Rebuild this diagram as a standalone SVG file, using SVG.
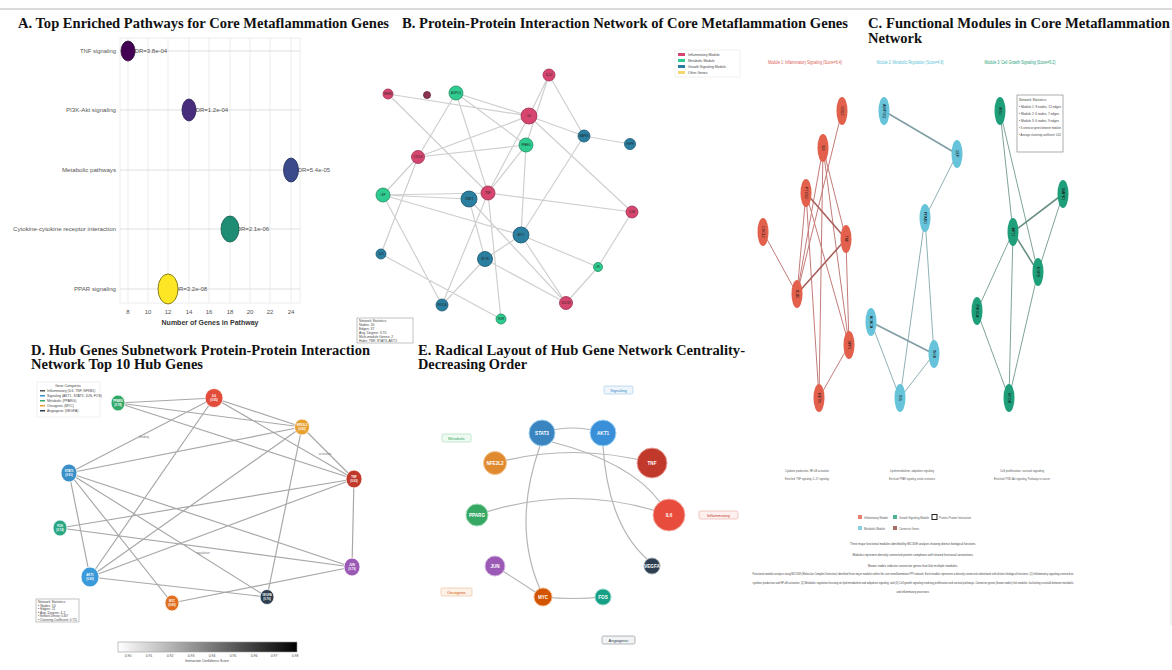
<svg xmlns="http://www.w3.org/2000/svg" width="1172" height="670" viewBox="0 0 1172 670">
<defs>
<style>
.ttl{font-family:"Liberation Serif","Times New Roman",serif;font-weight:bold;font-size:14.5px;fill:#111}
.ax{font-family:"Liberation Sans",Arial,sans-serif;font-size:6px;fill:#555}
.fdr{font-family:"Liberation Sans",Arial,sans-serif;font-size:6px;fill:#555}
.grid{stroke:#ebebeb;stroke-width:1}
.be{stroke:#cfcfcf;stroke-width:1.2;fill:none}
.bl{font-family:"Liberation Sans",Arial,sans-serif;font-size:2.6px;fill:#222;text-anchor:middle}
.cl{font-family:"Liberation Sans",Arial,sans-serif;font-size:3.6px;fill:#111;text-anchor:middle}
.re{stroke:#c27b78;stroke-width:1;fill:none}
.reT{stroke:#a8605c;stroke-width:1.6;fill:none}
.ue{stroke:#8fb0b6;stroke-width:1;fill:none}
.ueT{stroke:#7f9ea4;stroke-width:1.6;fill:none}
.ge{stroke:#7fa397;stroke-width:1;fill:none}
.geT{stroke:#6a8f83;stroke-width:1.6;fill:none}
.tiny{font-family:"Liberation Sans",Arial,sans-serif;font-size:3.4px;fill:#444}
.de{stroke:#a8a8a8;stroke-width:1.2;fill:none}
.dl{font-family:"Liberation Sans",Arial,sans-serif;font-size:2.8px;fill:#fff;text-anchor:middle;font-weight:bold}
.ee{stroke:#b5b5b5;stroke-width:1.2;fill:none}
.el{font-family:"Liberation Sans",Arial,sans-serif;font-size:4.6px;fill:#fff;text-anchor:middle;font-weight:bold}
.cat{font-family:"Liberation Sans",Arial,sans-serif;font-size:4px;text-anchor:middle}
</style>
<linearGradient id="cbar" x1="0" y1="0" x2="1" y2="0">
<stop offset="0" stop-color="#ffffff"/>
<stop offset="1" stop-color="#000000"/>
</linearGradient>
</defs>
<rect width="1172" height="670" fill="#ffffff"/>
<line x1="0" y1="9" x2="1172" y2="9" stroke="#cfcfcf" stroke-width="1.5"/>
<line x1="1171" y1="30" x2="1171" y2="625" stroke="#e2e2e2" stroke-width="1"/>

<!-- Titles -->
<text class="ttl" x="18" y="28" textLength="371" lengthAdjust="spacingAndGlyphs">A. Top Enriched Pathways for Core Metaflammation Genes</text>
<text class="ttl" x="402" y="28" textLength="446" lengthAdjust="spacingAndGlyphs">B. Protein-Protein Interaction Network of Core Metaflammation Genes</text>
<text class="ttl" x="868" y="28" textLength="302" lengthAdjust="spacingAndGlyphs">C. Functional Modules in Core Metaflammation</text>
<text class="ttl" x="868" y="43">Network</text>
<text class="ttl" x="31" y="355" textLength="339" lengthAdjust="spacingAndGlyphs">D. Hub Genes Subnetwork Protein-Protein Interaction</text>
<text class="ttl" x="31" y="369" textLength="172" lengthAdjust="spacingAndGlyphs">Network Top 10 Hub Genes</text>
<text class="ttl" x="418" y="355" textLength="327" lengthAdjust="spacingAndGlyphs">E. Radical Layout of Hub Gene Network Centrality-</text>
<text class="ttl" x="418" y="369" textLength="109" lengthAdjust="spacingAndGlyphs">Decreasing Order</text>

<!-- Panel A -->
<g id="panelA">
<rect x="120" y="38" width="180" height="265" fill="#ffffff" stroke="#ececec"/>
<g class="grid">
<line x1="128" y1="38" x2="128" y2="303"/><line x1="148" y1="38" x2="148" y2="303"/><line x1="168" y1="38" x2="168" y2="303"/><line x1="189" y1="38" x2="189" y2="303"/><line x1="209" y1="38" x2="209" y2="303"/><line x1="230" y1="38" x2="230" y2="303"/><line x1="250" y1="38" x2="250" y2="303"/><line x1="270" y1="38" x2="270" y2="303"/><line x1="291" y1="38" x2="291" y2="303"/>
</g>
<g stroke="#e0e0e0" stroke-width="1.2">
<line x1="120" y1="51" x2="300" y2="51"/><line x1="120" y1="110" x2="300" y2="110"/><line x1="120" y1="170" x2="300" y2="170"/><line x1="120" y1="229" x2="300" y2="229"/><line x1="120" y1="289" x2="300" y2="289"/>
</g>
<g class="ax" text-anchor="end">
<text x="116" y="53" textLength="36" lengthAdjust="spacingAndGlyphs">TNF signaling</text>
<text x="116" y="112" textLength="50" lengthAdjust="spacingAndGlyphs">PI3K-Akt signaling</text>
<text x="116" y="172" textLength="54" lengthAdjust="spacingAndGlyphs">Metabolic pathways</text>
<text x="116" y="231" textLength="103" lengthAdjust="spacingAndGlyphs">Cytokine-cytokine receptor interaction</text>
<text x="116" y="291" textLength="42" lengthAdjust="spacingAndGlyphs">PPAR signaling</text>
</g>
<g class="fdr">
<text x="131" y="53">FDR=3.8e-04</text>
<text x="192" y="112">FDR=1.2e-04</text>
<text x="294" y="172">FDR=5.4e-05</text>
<text x="233" y="231">FDR=2.1e-06</text>
<text x="171" y="291">FDR=3.2e-08</text>
</g>
<ellipse cx="128" cy="51" rx="7" ry="10" fill="#440154" stroke="#2a0a33" stroke-width="0.8"/>
<ellipse cx="189" cy="110" rx="7" ry="11" fill="#472d7b" stroke="#2d1f55" stroke-width="0.8"/>
<ellipse cx="291" cy="170" rx="7.5" ry="12" fill="#3b4a8a" stroke="#25305c" stroke-width="0.8"/>
<ellipse cx="230" cy="229" rx="9" ry="13" fill="#1f8c74" stroke="#145c4c" stroke-width="0.8"/>
<ellipse cx="168" cy="289" rx="10" ry="15" fill="#fde725" stroke="#8a7e1a" stroke-width="1"/>
<g class="ax" text-anchor="middle">
<text x="128" y="314">8</text><text x="148" y="314">10</text><text x="168" y="314">12</text><text x="189" y="314">14</text><text x="209" y="314">16</text><text x="230" y="314">18</text><text x="250" y="314">20</text><text x="270" y="314">22</text><text x="291" y="314">24</text>
</g>
<text x="210" y="325" text-anchor="middle" font-family="Liberation Sans, Arial, sans-serif" font-size="7" font-weight="bold" fill="#333">Number of Genes in Pathway</text>
</g>

<!-- Panel B -->
<g id="panelB-edges">
<path class="be" d="M388,94L529,116M388,94L488,193M456,93L529,116M456,93L418,157M456,93L526,145M456,93L488,193M549,75L529,116M549,75L584,136M549,75L526,145M529,116L584,136M584,136L630,144M529,116L418,157M529,116L632,212M418,157L526,145M418,157L383,195M418,157L381,254M584,136L521,235M383,195L488,193M383,195L469,199M383,195L521,235M383,195L442,305M488,193L632,212M488,193L501,319M488,193L442,305M469,199L485,259M469,199L566,303M521,235L566,303M521,235L598,267M521,235L485,259M485,259L566,303M485,259L442,305M632,212L598,267M598,267L566,303M381,254L501,319M526,145L521,235M526,145L488,193M529,116L488,193"/>
</g>
<g id="panelB-nodes" stroke-width="0.8">
<g id="b-NFKB1"><circle cx="388" cy="94" r="5" fill="#d6456e" stroke="#9a2f4f"/><text class="bl" x="388" y="95">NFKB1</text></g>
<g id="b-TLR4"><circle cx="427" cy="95" r="3.5" fill="#8e3452" stroke="#5c2035"/></g>
<g id="b-ADIPOQ"><circle cx="456" cy="93" r="7" fill="#2ecc8f" stroke="#1e8a60"/><text class="bl" x="456" y="94">ADIPOQ</text></g>
<g id="b-CCL2"><circle cx="549" cy="75" r="6" fill="#d6456e" stroke="#9a2f4f"/><text class="bl" x="549" y="76">CCL2</text></g>
<g id="b-IL6"><circle cx="529" cy="116" r="8" fill="#d6456e" stroke="#9a2f4f"/><text class="bl" x="529" y="117">IL6</text></g>
<g id="b-MAPK8"><circle cx="584" cy="136" r="6" fill="#2a7fa0" stroke="#1b5670"/><text class="bl" x="584" y="137">MAPK8</text></g>
<g id="b-PPARG"><circle cx="526" cy="145" r="7" fill="#2ecc8f" stroke="#1e8a60"/><text class="bl" x="526" y="146">PPARG</text></g>
<g id="b-EGFR"><circle cx="630" cy="144" r="5.5" fill="#2a7fa0" stroke="#1b5670"/><text class="bl" x="630" y="145">EGFR</text></g>
<g id="b-CXCL8"><circle cx="418" cy="157" r="6.5" fill="#d6456e" stroke="#9a2f4f"/><text class="bl" x="418" y="158">CXCL8</text></g>
<g id="b-LEP"><circle cx="383" cy="195" r="7" fill="#2ecc8f" stroke="#1e8a60"/><text class="bl" x="383" y="196">LEP</text></g>
<g id="b-STAT3"><circle cx="469" cy="199" r="8" fill="#2a7fa0" stroke="#1b5670"/><text class="bl" x="469" y="200">STAT3</text></g>
<g id="b-TNF"><circle cx="488" cy="193" r="7" fill="#d6456e" stroke="#9a2f4f"/><text class="bl" x="488" y="194">TNF</text></g>
<g id="b-IL1B"><circle cx="632" cy="212" r="6" fill="#d6456e" stroke="#9a2f4f"/><text class="bl" x="632" y="213">IL1B</text></g>
<g id="b-AKT1"><circle cx="521" cy="235" r="8" fill="#2a7fa0" stroke="#1b5670"/><text class="bl" x="521" y="236">AKT1</text></g>
<g id="b-JUN"><circle cx="381" cy="254" r="5" fill="#2a7fa0" stroke="#1b5670"/><text class="bl" x="381" y="255">JUN</text></g>
<g id="b-MTOR"><circle cx="485" cy="259" r="7.5" fill="#2a7fa0" stroke="#1b5670"/><text class="bl" x="485" y="260">MTOR</text></g>
<g id="b-LPL"><circle cx="598" cy="267" r="4.5" fill="#2ecc8f" stroke="#1e8a60"/><text class="bl" x="598" y="268">LPL</text></g>
<g id="b-PIK3CA"><circle cx="442" cy="305" r="6" fill="#2a7fa0" stroke="#1b5670"/><text class="bl" x="442" y="306">PIK3CA</text></g>
<g id="b-SOCS3"><circle cx="566" cy="303" r="6.5" fill="#d6456e" stroke="#9a2f4f"/><text class="bl" x="566" y="304">SOCS3</text></g>
<g id="b-INSR"><circle cx="501" cy="319" r="5" fill="#2ecc8f" stroke="#1e8a60"/><text class="bl" x="501" y="320">INSR</text></g>
</g>
<g id="panelB-legend">
<rect x="675" y="50" width="65" height="27" fill="#ffffff" stroke="#e6e6e6" stroke-width="0.6"/>
<rect x="678" y="53" width="7" height="3" fill="#d6456e"/><text class="tiny" x="688" y="56">Inflammatory Module</text>
<rect x="678" y="59" width="7" height="3" fill="#2ecc8f"/><text class="tiny" x="688" y="62">Metabolic Module</text>
<rect x="678" y="65" width="7" height="3" fill="#2a7fa0"/><text class="tiny" x="688" y="68">Growth Signaling Module</text>
<rect x="678" y="71" width="7" height="3" fill="#f5d76e"/><text class="tiny" x="688" y="74">Other Genes</text>
</g>
<g id="panelB-stats">
<rect x="357" y="318" width="56" height="25" fill="#ffffff" stroke="#9a9a9a" stroke-width="0.6"/>
<g class="tiny" font-size="2.8px">
<text x="359" y="322">Network Statistics:</text>
<text x="359" y="326">Nodes: 20</text>
<text x="359" y="330">Edges: 37</text>
<text x="359" y="334">Avg. Degree: 3.70</text>
<text x="359" y="338">Multi-module Genes: 2</text>
<text x="359" y="342">Hubs: TNF, STAT3, AKT1</text>
</g>
</g>

<!-- Panel C -->
<g id="panelC-titles" font-family="Liberation Sans, Arial, sans-serif" font-size="5px" text-anchor="middle">
<text x="805" y="64" fill="#d9604f" textLength="74" lengthAdjust="spacingAndGlyphs">Module 1: Inflammatory Signaling (Score=6.4)</text>
<text x="910" y="64" fill="#5bbfd6" textLength="67" lengthAdjust="spacingAndGlyphs">Module 2: Metabolic Regulation (Score=4.8)</text>
<text x="1020" y="64" fill="#1f9e7a" textLength="71" lengthAdjust="spacingAndGlyphs">Module 3: Cell Growth Signaling (Score=5.2)</text>
</g>
<g id="panelC-edges">
<path class="re" d="M842,111L797,294M823,148L797,294M823,148L846,239M823,148L849,345M823,148L819,398M806,193L819,398M806,193L849,345M763,232L797,294M846,239L849,345M849,345L819,398M806,193L797,294"/>
<path class="reT" d="M806,193L846,239M846,239L797,294"/>
<path class="ue" d="M957,154L925,218M925,218L900,398M925,218L934,354M871,322L900,398M934,354L900,398"/>
<path class="ueT" d="M884,111L957,154M871,322L934,354"/>
<path class="ge" d="M1000,111L1013,232M1000,111L1038,272M1063,194L1038,272M1013,232L977,311M1013,232L1009,398M1038,272L1009,398M977,311L1009,398"/>
<path class="geT" d="M1063,194L1013,232M1013,232L1038,272"/>
</g>
<g id="panelC-nodes">
<g fill="#e2604c">
<g id="c-CCL2"><ellipse cx="842" cy="111" rx="5.5" ry="14"/><text class="cl" transform="translate(842,111) rotate(90)" y="1.2">CCL2</text></g>
<g id="c-IL6"><ellipse cx="823" cy="148" rx="5.5" ry="14"/><text class="cl" transform="translate(823,148) rotate(90)" y="1.2">IL6</text></g>
<g id="c-PTGS2"><ellipse cx="806" cy="193" rx="5.5" ry="14"/><text class="cl" transform="translate(806,193) rotate(90)" y="1.2">PTGS2</text></g>
<g id="c-CXCL2"><ellipse cx="763" cy="232" rx="5.5" ry="14"/><text class="cl" transform="translate(763,232) rotate(90)" y="1.2">CXCL2</text></g>
<g id="c-TNF"><ellipse cx="846" cy="239" rx="5.5" ry="14"/><text class="cl" transform="translate(846,239) rotate(90)" y="1.2">TNF</text></g>
<g id="c-IL1B"><ellipse cx="797" cy="294" rx="5.5" ry="14"/><text class="cl" transform="translate(797,294) rotate(90)" y="1.2">IL1B</text></g>
<g id="c-SPP1"><ellipse cx="849" cy="345" rx="5.5" ry="14"/><text class="cl" transform="translate(849,345) rotate(90)" y="1.2">SPP1</text></g>
<g id="c-RETN"><ellipse cx="819" cy="398" rx="5.5" ry="14"/><text class="cl" transform="translate(819,398) rotate(90)" y="1.2">RETN</text></g>
</g>
<g fill="#66c3da">
<g id="c-ADIPOQ"><ellipse cx="884" cy="111" rx="5.5" ry="14"/><text class="cl" transform="translate(884,111) rotate(90)" y="1.2">ADIPOQ</text></g>
<g id="c-LEP"><ellipse cx="957" cy="154" rx="5.5" ry="14"/><text class="cl" transform="translate(957,154) rotate(90)" y="1.2">LEP</text></g>
<g id="c-PPARG"><ellipse cx="925" cy="218" rx="5.5" ry="14"/><text class="cl" transform="translate(925,218) rotate(90)" y="1.2">PPARG</text></g>
<g id="c-ACACA"><ellipse cx="871" cy="322" rx="5.5" ry="14"/><text class="cl" transform="translate(871,322) rotate(90)" y="1.2">ACACA</text></g>
<g id="c-INSR"><ellipse cx="934" cy="354" rx="5.5" ry="14"/><text class="cl" transform="translate(934,354) rotate(90)" y="1.2">INSR</text></g>
<g id="c-INS"><ellipse cx="900" cy="398" rx="5.5" ry="14"/><text class="cl" transform="translate(900,398) rotate(90)" y="1.2">INS</text></g>
</g>
<g fill="#1f9e7a">
<g id="c-IRS1"><ellipse cx="1000" cy="111" rx="5.5" ry="14"/><text class="cl" transform="translate(1000,111) rotate(90)" y="1.2">IRS1</text></g>
<g id="c-MAPK1"><ellipse cx="1063" cy="194" rx="5.5" ry="14"/><text class="cl" transform="translate(1063,194) rotate(90)" y="1.2">MAPK1</text></g>
<g id="c-AKT1"><ellipse cx="1013" cy="232" rx="5.5" ry="14"/><text class="cl" transform="translate(1013,232) rotate(90)" y="1.2">AKT1</text></g>
<g id="c-EGFR"><ellipse cx="1038" cy="272" rx="5.5" ry="14"/><text class="cl" transform="translate(1038,272) rotate(90)" y="1.2">EGFR</text></g>
<g id="c-PIK3CA"><ellipse cx="977" cy="311" rx="5.5" ry="14"/><text class="cl" transform="translate(977,311) rotate(90)" y="1.2">PIK3CA</text></g>
<g id="c-MTOR"><ellipse cx="1009" cy="398" rx="5.5" ry="14"/><text class="cl" transform="translate(1009,398) rotate(90)" y="1.2">MTOR</text></g>
</g>
</g>
<g id="panelC-stats">
<rect x="1017" y="95" width="46" height="57" fill="#ffffff" stroke="#8a8a8a" stroke-width="0.7"/>
<g class="tiny" font-size="3.2px" fill="#333">
<text x="1019" y="101">Network Statistics:</text>
<text x="1019" y="108" textLength="42" lengthAdjust="spacingAndGlyphs">• Module 1: 8 nodes, 12 edges</text>
<text x="1019" y="115" textLength="40" lengthAdjust="spacingAndGlyphs">• Module 2: 6 nodes, 7 edges</text>
<text x="1019" y="122" textLength="40" lengthAdjust="spacingAndGlyphs">• Module 3: 6 nodes, 9 edges</text>
<text x="1019" y="129" textLength="42" lengthAdjust="spacingAndGlyphs">• 3 connector genes between modules</text>
<text x="1019" y="136" textLength="42" lengthAdjust="spacingAndGlyphs">• Average clustering coefficient: 0.62</text>
</g>
</g>
<g id="panelC-text" font-family="Liberation Sans, Arial, sans-serif" fill="#555" text-anchor="middle">
<text x="807" y="472" font-size="3.8px" textLength="44" lengthAdjust="spacingAndGlyphs">Cytokine production, NF-κB activation</text>
<text x="807" y="480" font-size="3.8px" textLength="44" lengthAdjust="spacingAndGlyphs">Enriched: TNF signaling, IL-17 signaling</text>
<text x="912" y="472" font-size="3.8px" textLength="44" lengthAdjust="spacingAndGlyphs">Lipid metabolism, adipokine signaling</text>
<text x="912" y="480" font-size="3.8px" textLength="46" lengthAdjust="spacingAndGlyphs">Enriched: PPAR signaling, insulin resistance</text>
<text x="1022" y="472" font-size="3.8px" textLength="44" lengthAdjust="spacingAndGlyphs">Cell proliferation, survival signaling</text>
<text x="1022" y="480" font-size="3.8px" textLength="56" lengthAdjust="spacingAndGlyphs">Enriched: PI3K-Akt signaling, Pathways in cancer</text>
</g>
<g id="panelC-legend" font-family="Liberation Sans, Arial, sans-serif" font-size="3.6px" fill="#555">
<rect x="858" y="515" width="4" height="4" fill="#e2604c" opacity="0.8"/><text x="864" y="519" textLength="24" lengthAdjust="spacingAndGlyphs">Inflammatory Module</text>
<rect x="893" y="515" width="4" height="4" fill="#1f9e7a" opacity="0.8"/><text x="899" y="519" textLength="30" lengthAdjust="spacingAndGlyphs">Growth Signaling Module</text>
<rect x="932" y="514.5" width="5" height="5" fill="#ffffff" stroke="#222" stroke-width="1"/><text x="939" y="519" textLength="32" lengthAdjust="spacingAndGlyphs">Protein-Protein Interaction</text>
<rect x="858" y="526" width="4" height="4" fill="#66c3da" opacity="0.8"/><text x="864" y="530" textLength="21" lengthAdjust="spacingAndGlyphs">Metabolic Module</text>
<rect x="893" y="526" width="4" height="4" fill="#8b4a3c" opacity="0.8"/><text x="899" y="530" textLength="20" lengthAdjust="spacingAndGlyphs">Connector Genes</text>
</g>
<g id="panelC-caption" font-family="Liberation Sans, Arial, sans-serif" fill="#444" text-anchor="middle">
<text x="913" y="545" font-size="3.8px" textLength="126" lengthAdjust="spacingAndGlyphs">Three major functional modules identified by MCODE analysis showing distinct biological functions.</text>
<text x="913" y="556" font-size="3.8px" textLength="121" lengthAdjust="spacingAndGlyphs">Modules represent densely connected protein complexes with shared functional annotations.</text>
<text x="913" y="567" font-size="3.8px" textLength="90" lengthAdjust="spacingAndGlyphs">Brown nodes indicate connector genes that link multiple modules.</text>
<text x="913" y="575" font-size="3.4px" textLength="321" lengthAdjust="spacingAndGlyphs">Functional module analysis using MCODE (Molecular Complex Detection) identified three major modules within the core metaflammation PPI network. Each module represents a densely connected subnetwork with distinct biological functions: (1) Inflammatory signaling centered on</text>
<text x="913" y="584" font-size="3.4px" textLength="321" lengthAdjust="spacingAndGlyphs">cytokine production and NF-κB activation; (2) Metabolic regulation focusing on lipid metabolism and adipokine signaling; and (3) Cell growth signaling involving proliferation and survival pathways. Connector genes (brown nodes) link modules, facilitating crosstalk between metabolic</text>
<text x="913" y="593" font-size="3.4px" textLength="33" lengthAdjust="spacingAndGlyphs">and inflammatory processes.</text>
</g>

<!-- Panel D -->
<g id="panelD-edges">
<path class="de" d="M118,403L214,398M118,403L302,427M118,403L354,479M214,398L302,427M214,398L354,479M214,398L90,577M69,473L214,398M69,473L302,427M302,427L354,479M302,427L90,577M302,427L267,597M354,479L90,577M354,479L352,567M60,528L354,479M60,528L352,567M69,473L90,577M69,473L172,603M69,473L267,597M69,473L352,567M90,577L267,597M172,603L352,567"/>
<g font-family="Liberation Sans, Arial, sans-serif" font-size="3px" fill="#777" text-anchor="middle">
<text x="144" y="438">binding</text>
<text x="325" y="455">activation</text>
<text x="203" y="554">regulation</text>
</g>
</g>
<g id="panelD-nodes" stroke="#ffffff" stroke-width="0.8">
<g id="d-PPARG"><ellipse cx="118" cy="403" rx="7" ry="8" fill="#32a96a"/><text class="dl" x="118" y="402" stroke="none">PPARG</text><text class="dl" x="118" y="406" stroke="none">(0.78)</text></g>
<g id="d-IL6"><ellipse cx="214" cy="398" rx="9" ry="9.5" fill="#e24c3b"/><text class="dl" x="214" y="397" stroke="none">IL6</text><text class="dl" x="214" y="401" stroke="none">(0.95)</text></g>
<g id="d-NFE2L2"><ellipse cx="302" cy="427" rx="7.5" ry="8" fill="#e8a030"/><text class="dl" x="302" y="426" stroke="none">NFE2L2</text><text class="dl" x="302" y="430" stroke="none">(0.82)</text></g>
<g id="d-TNF"><ellipse cx="354" cy="479" rx="8" ry="9" fill="#c0392b"/><text class="dl" x="354" y="478" stroke="none">TNF</text><text class="dl" x="354" y="482" stroke="none">(0.93)</text></g>
<g id="d-STAT3"><ellipse cx="69" cy="473" rx="8" ry="9" fill="#3a8fc8"/><text class="dl" x="69" y="472" stroke="none">STAT3</text><text class="dl" x="69" y="476" stroke="none">(0.91)</text></g>
<g id="d-FOS"><ellipse cx="60" cy="528" rx="7" ry="8" fill="#2aa886"/><text class="dl" x="60" y="527" stroke="none">FOS</text><text class="dl" x="60" y="531" stroke="none">(0.74)</text></g>
<g id="d-AKT1"><ellipse cx="90" cy="577" rx="9" ry="10" fill="#3b9ad9"/><text class="dl" x="90" y="576" stroke="none">AKT1</text><text class="dl" x="90" y="580" stroke="none">(0.90)</text></g>
<g id="d-MYC"><ellipse cx="172" cy="603" rx="7" ry="8" fill="#e07020"/><text class="dl" x="172" y="602" stroke="none">MYC</text><text class="dl" x="172" y="606" stroke="none">(0.80)</text></g>
<g id="d-VEGFA"><ellipse cx="267" cy="597" rx="7" ry="7.5" fill="#2c3e50"/><text class="dl" x="267" y="596" stroke="none">VEGFA</text><text class="dl" x="267" y="600" stroke="none">(0.76)</text></g>
<g id="d-JUN"><ellipse cx="352" cy="567" rx="8" ry="9" fill="#9b59b6"/><text class="dl" x="352" y="566" stroke="none">JUN</text><text class="dl" x="352" y="570" stroke="none">(0.79)</text></g>
</g>
<g id="panelD-legend">
<rect x="37" y="382" width="63" height="35" fill="#ffffff" stroke="#e6e6e6" stroke-width="0.6"/>
<text class="tiny" x="68" y="387" text-anchor="middle" font-size="3px">Gene Categories</text>
<g class="tiny" font-size="2.7px">
<rect x="40" y="390" width="5" height="1.5" fill="#555"/><text x="47" y="391.5">Inflammatory (IL6, TNF, NFKB1)</text>
<rect x="40" y="395" width="5" height="1.5" fill="#3a8fc8"/><text x="47" y="396.5">Signaling (AKT1, STAT3, JUN, FOS)</text>
<rect x="40" y="400" width="5" height="1.5" fill="#32a96a"/><text x="47" y="401.5">Metabolic (PPARG)</text>
<rect x="40" y="405" width="5" height="1.5" fill="#e8a030"/><text x="47" y="406.5">Oncogenic (MYC)</text>
<rect x="40" y="410" width="5" height="1.5" fill="#2c3e50"/><text x="47" y="411.5">Angiogenic (VEGFA)</text>
</g>
</g>
<g id="panelD-stats">
<rect x="36" y="599" width="43" height="23" fill="#ffffff" stroke="#9a9a9a" stroke-width="0.6"/>
<g class="tiny" font-size="2.6px">
<text x="38" y="603">Network Statistics:</text>
<text x="38" y="606.5">• Nodes: 10</text>
<text x="38" y="610">• Edges: 21</text>
<text x="38" y="613.5">• Avg. Degree: 4.2</text>
<text x="38" y="617" textLength="30" lengthAdjust="spacingAndGlyphs">• Network Density: 0.467</text>
<text x="38" y="620.5" textLength="39" lengthAdjust="spacingAndGlyphs">• Clustering Coefficient: 0.711</text>
</g>
</g>
<g id="panelD-colorbar">
<rect x="118" y="642" width="179" height="10" fill="url(#cbar)" stroke="#999" stroke-width="0.6"/>
<g class="tiny" font-size="2.8px" text-anchor="middle">
<text x="128" y="657">0.90</text><text x="149" y="657">0.91</text><text x="170" y="657">0.92</text><text x="191" y="657">0.93</text><text x="212" y="657">0.94</text><text x="233" y="657">0.95</text><text x="254" y="657">0.96</text><text x="274" y="657">0.97</text><text x="295" y="657">0.98</text>
<text x="207" y="662">Interaction Confidence Score</text>
</g>
</g>

<!-- Panel E -->
<g id="panelE-edges">
<path class="ee" d="M542,433Q572,423 603,433"/>
<path class="ee" d="M495,463Q573,442 652,463"/>
<path class="ee" d="M477,515Q573,482 669,515"/>
<path class="ee" d="M540,446Q512,525 540,589"/>
<path class="ee" d="M603,446Q608,525 648,560"/>
<path class="ee" d="M552,442Q630,462 660,502"/>
<path class="ee" d="M495,566L543,597"/>
<path class="ee" d="M543,597Q573,600 603,597"/>
</g>
<g id="panelE-nodes" stroke-width="1">
<g id="e-STAT3"><circle cx="542" cy="433" r="13" fill="#3a85c0" stroke="#9fd0f0"/><text class="el" x="542" y="434.6">STAT3</text></g>
<g id="e-AKT1"><circle cx="603" cy="433" r="13" fill="#3a90d8" stroke="#a6d5f5"/><text class="el" x="603" y="434.6">AKT1</text></g>
<g id="e-TNF"><circle cx="652" cy="463" r="15" fill="#c0392b" stroke="#e8a29a"/><text class="el" x="652" y="464.6">TNF</text></g>
<g id="e-NFE2L2"><circle cx="495" cy="463" r="11.5" fill="#e08a30" stroke="#f5c590"/><text class="el" x="495" y="464.6">NFE2L2</text></g>
<g id="e-PPARG"><circle cx="477" cy="515" r="11" fill="#36a864" stroke="#a3dcb8"/><text class="el" x="477" y="516.6">PPARG</text></g>
<g id="e-IL6"><circle cx="669" cy="515" r="16" fill="#e74c3c" stroke="#f5b0a8"/><text class="el" x="669" y="516.6">IL6</text></g>
<g id="e-JUN"><circle cx="495" cy="566" r="10" fill="#9b59b6" stroke="#d4b5e0"/><text class="el" x="495" y="567.6">JUN</text></g>
<g id="e-VEGFA"><circle cx="652" cy="566" r="8" fill="#2c3e50" stroke="#a0a8b0"/><text class="el" x="652" y="567.6" font-size="3.6px">VEGFA</text></g>
<g id="e-MYC"><circle cx="543" cy="597" r="9" fill="#d35400" stroke="#f0b080"/><text class="el" x="543" y="598.6">MYC</text></g>
<g id="e-FOS"><circle cx="603" cy="597" r="8" fill="#16a085" stroke="#90d8c8"/><text class="el" x="603" y="598.6">FOS</text></g>
</g>
<g id="panelE-categories">
<rect x="604" y="386" width="29" height="8" rx="1.5" fill="#eef6fc" stroke="#9cc8e8" stroke-width="0.6"/><text class="cat" x="618.5" y="391.5" fill="#3a85c0">Signaling</text>
<rect x="442" y="434" width="29" height="8" rx="1.5" fill="#eefaf2" stroke="#9fd8b4" stroke-width="0.6"/><text class="cat" x="456.5" y="439.5" fill="#36a864">Metabolic</text>
<rect x="699" y="511" width="39" height="8" rx="1.5" fill="#fdf0ef" stroke="#e8a8a0" stroke-width="0.6"/><text class="cat" x="718.5" y="516.5" fill="#c0392b">Inflammatory</text>
<rect x="441" y="588" width="31" height="8" rx="1.5" fill="#fdf2e8" stroke="#eab890" stroke-width="0.6"/><text class="cat" x="456.5" y="593.5" fill="#d35400">Oncogenic</text>
<rect x="602" y="636" width="33" height="8" rx="1.5" fill="#f2f3f4" stroke="#7f8c8d" stroke-width="0.6"/><text class="cat" x="618.5" y="641.5" fill="#2c3e50">Angiogenic</text>
</g>
</svg>
